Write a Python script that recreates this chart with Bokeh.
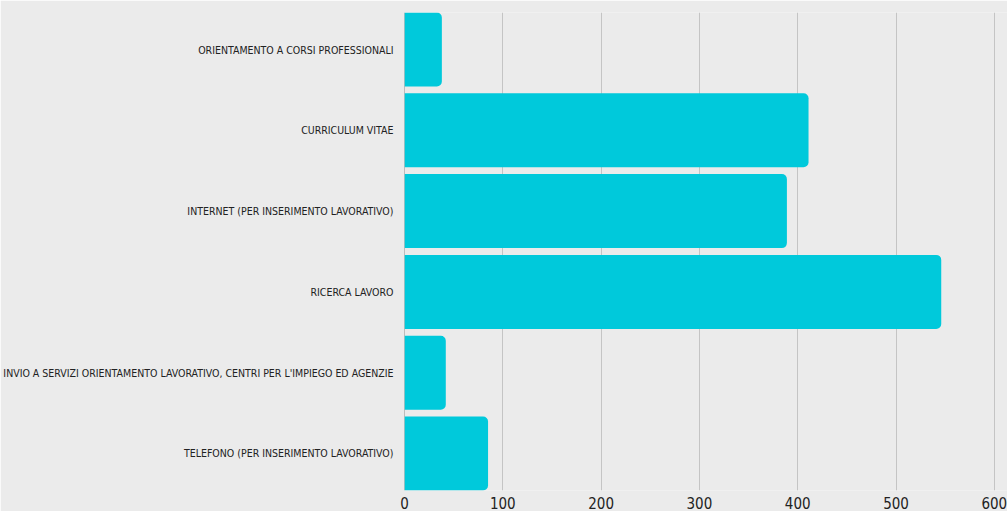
from bokeh.plotting import figure
from bokeh.models import Range1d, FixedTicker, Span
from bokeh.embed import file_html
from bokeh.resources import INLINE

categories = [
    "ORIENTAMENTO A CORSI PROFESSIONALI",
    "CURRICULUM VITAE",
    "INTERNET (PER INSERIMENTO LAVORATIVO)",
    "RICERCA LAVORO",
    "INVIO A SERVIZI ORIENTAMENTO LAVORATIVO, CENTRI PER L'IMPIEGO ED AGENZIE",
    "TELEFONO (PER INSERIMENTO LAVORATIVO)",
]
values = [38, 411, 389, 546, 42, 85]
x_ticks = [0, 100, 200, 300, 400, 500, 600]

n = len(categories)
ypos = [n - 1 - i for i in range(n)]

BG = "#ebebeb"
BAR = "#00c9db"
FONT = "'Liberation Sans Narrow', 'DejaVu Sans Condensed', sans-serif"

p = figure(width=1007, height=511, output_backend="svg", toolbar_location=None,
           x_range=Range1d(0, 613.4), y_range=Range1d(-0.458, n - 1 + 0.458),
           min_border_left=404, min_border_right=0, min_border_top=12, min_border_bottom=0)
p.background_fill_color = BG
p.border_fill_color = BG
p.outline_line_color = None

p.hbar(y=ypos, right=values, left=0, height=0.916, fill_color=BAR, line_color=None,
       border_radius=(0, 5, 5, 0))

p.add_layout(Span(location=0, dimension="height", line_color="#888888", line_width=1, level="underlay"))

p.xgrid.ticker = FixedTicker(ticks=x_ticks)
p.xgrid.grid_line_color = "#c4c4c4"
p.ygrid.grid_line_color = None

xa = p.xaxis[0]
xa.ticker = FixedTicker(ticks=x_ticks)
xa.axis_line_color = None
xa.major_tick_line_color = None
xa.minor_tick_line_color = None
xa.major_tick_out = 0
xa.major_tick_in = 0
xa.major_label_standoff = 6
xa.major_label_text_font = FONT
xa.major_label_text_font_size = "15px"
xa.major_label_text_color = "#222222"

ya = p.yaxis[0]
ya.ticker = FixedTicker(ticks=ypos)
ya.major_label_overrides = {y: c for y, c in zip(ypos, categories)}
ya.axis_line_color = None
ya.major_tick_line_color = None
ya.minor_tick_line_color = None
ya.major_tick_out = 0
ya.major_tick_in = 0
ya.major_label_standoff = 11
ya.major_label_text_font = FONT
ya.major_label_text_font_size = "10.5px"
ya.major_label_text_color = "#222222"

open("out.html", "w").write(file_html(p, INLINE))
